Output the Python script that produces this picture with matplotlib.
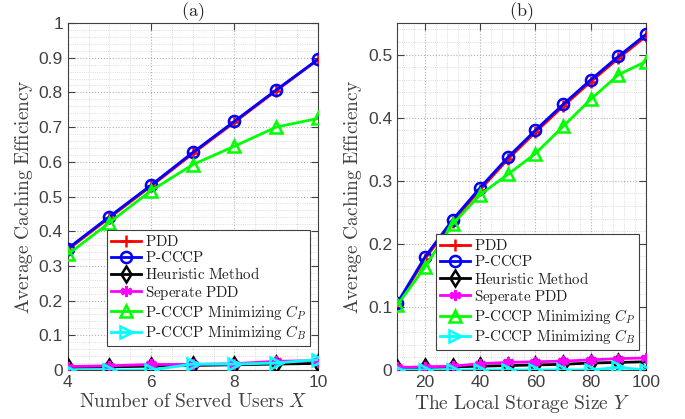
import matplotlib
matplotlib.use("Agg")
import matplotlib.pyplot as plt
from matplotlib.ticker import AutoMinorLocator

plt.rcParams['mathtext.fontset'] = 'cm'
plt.rcParams['font.family'] = ['Liberation Sans', 'DejaVu Sans']

# ---- data (a) ----
xa = [4, 5, 6, 7, 8, 9, 10]
a_pdd = [0.347, 0.439, 0.530, 0.624, 0.714, 0.805, 0.894]
a_pcccp = [0.350, 0.442, 0.533, 0.627, 0.717, 0.807, 0.895]
a_heur = [0.008, 0.009, 0.011, 0.013, 0.015, 0.017, 0.019]
a_sep = [0.010, 0.012, 0.016, 0.016, 0.018, 0.025, 0.027]
a_cp = [0.333, 0.425, 0.517, 0.592, 0.645, 0.700, 0.725]
a_cb = [0.000, 0.000, 0.000, 0.017, 0.017, 0.020, 0.030]

# ---- data (b) ----
xb = [10, 20, 30, 40, 50, 60, 70, 80, 90, 100]
b_pdd = [0.104, 0.176, 0.235, 0.286, 0.334, 0.377, 0.418, 0.457, 0.494, 0.529]
b_pcccp = [0.106, 0.179, 0.238, 0.289, 0.337, 0.380, 0.421, 0.460, 0.497, 0.532]
b_heur = [0.003, 0.004, 0.005, 0.006, 0.007, 0.008, 0.009, 0.011, 0.012, 0.013]
b_sep = [0.004, 0.005, 0.006, 0.010, 0.012, 0.013, 0.014, 0.016, 0.018, 0.019]
b_cp = [0.103, 0.163, 0.231, 0.278, 0.310, 0.343, 0.386, 0.429, 0.468, 0.489]
b_cb = [0.000, 0.000, 0.000, 0.000, 0.000, 0.000, 0.000, 0.000, 0.004, 0.000]

labels = [r'$\mathrm{PDD}$', r'$\mathrm{P\text{-}CCCP}$', r'$\mathrm{Heuristic\ Method}$',
          r'$\mathrm{Seperate\ PDD}$',
          r'$\mathrm{P\text{-}CCCP\ Minimizing}\ C_P$',
          r'$\mathrm{P\text{-}CCCP\ Minimizing}\ C_B$']
colors = ['#ff0000', '#0000ff', '#000000', '#ff00ff', '#00ff00', '#00ffff']
markers = ['+', 'o', 'd', (6, 2, 0), '^', '>']

gray = '#404040'
fig = plt.figure(figsize=(6.85, 4.19), dpi=100)
axa = fig.add_axes([0.099, 0.117, 0.365, 0.828])
axb = fig.add_axes([0.580, 0.117, 0.363, 0.828])

def draw(ax, x, series, xlim, ylim, xticks, yticks, xlabel, title, leg_bbox):
    handles = []
    for y, c, m, lab in zip(series, colors, markers, labels):
        h, = ax.plot(x, y, color=c, marker=m, markersize=8 if m != '+' else 9,
                     markerfacecolor='none', markeredgewidth=1.8, linewidth=2,
                     label=lab, zorder=3)
        handles.append(h)
    ax.set_xlim(*xlim)
    ax.set_ylim(*ylim)
    ax.set_xticks(xticks)
    ax.set_yticks(yticks)
    ax.set_xticklabels([f'{t:g}' for t in xticks])
    ax.set_yticklabels([f'{t:g}' for t in yticks])
    ax.xaxis.set_minor_locator(AutoMinorLocator(4 if xlim[1] - xlim[0] < 20 else 5))
    ax.yaxis.set_minor_locator(AutoMinorLocator(5))
    ax.grid(which='major', linestyle=':', color='#b0b0b0', linewidth=0.8)
    ax.grid(which='minor', linestyle=':', color='#d0d0d0', linewidth=0.6)
    ax.tick_params(which='both', direction='in', top=True, right=True,
                   colors=gray, labelsize=12.5)
    ax.tick_params(which='minor', length=0)
    ax.tick_params(which='major', length=5)
    for s in ax.spines.values():
        s.set_color(gray)
        s.set_linewidth(0.8)
    ax.set_xlabel(xlabel, fontsize=14, color=gray, labelpad=2)
    ax.set_ylabel(r'$\mathrm{Average\ Caching\ Efficiency}$', fontsize=14,
                  color=gray, labelpad=3)
    ax.set_title(title, fontsize=13, color='#202020', pad=4)
    leg = ax.legend(handles=handles, loc='lower right', bbox_to_anchor=leg_bbox,
                    prop={'size': 10.8},
                    fancybox=False, framealpha=1, edgecolor='#404040',
                    borderpad=0.25, labelspacing=0.08, handlelength=2.0,
                    handletextpad=0.3, borderaxespad=0)
    leg.get_frame().set_linewidth(0.8)
    for t in leg.get_texts():
        t.set_color('#202020')
    leg.set_zorder(5)

draw(axa, xa, [a_pdd, a_pcccp, a_heur, a_sep, a_cp, a_cb], (4, 10), (0, 1),
     [4, 6, 8, 10], [0, 0.1, 0.2, 0.3, 0.4, 0.5, 0.6, 0.7, 0.8, 0.9, 1],
     r'$\mathrm{Number\ of\ Served\ Users}\ X$', r'$\mathrm{(a)}$', (0.968, 0.07))
draw(axb, xb, [b_pdd, b_pcccp, b_heur, b_sep, b_cp, b_cb], (10, 100), (0, 0.55),
     [20, 40, 60, 80, 100], [0, 0.1, 0.2, 0.3, 0.4, 0.5],
     r'$\mathrm{The\ Local\ Storage\ Size}\ Y$', r'$\mathrm{(b)}$', (0.972, 0.058))

fig.savefig('out.png', dpi=100)
